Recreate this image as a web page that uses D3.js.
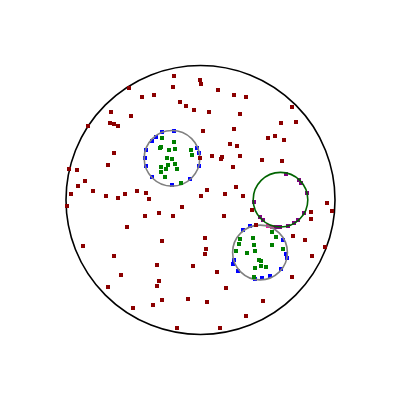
<!DOCTYPE html>
<html><head><meta charset="utf-8">
<script src="https://cdn.jsdelivr.net/npm/d3@7"></script>
<style>html,body{margin:0;padding:0;background:#fff;}svg{display:block;}</style>
</head><body>
<script>
// Outer enclosing circle and inner circles [cx, cy, r]
const outerCircle = [200.5, 200, 134.5];
const grayCircles = [[172, 158.3, 27.8], [260, 252.5, 27.4]];
const greenCircle = [280.5, 199.7, 27.3];

// Scattered dark red points
const redPoints = [
  [174,76],[199.5,80],[201,84],[173,86.7],[129,87.7],[154,94.7],[142,96.7],[180,102],[186,105.7],[194,110],
  [111,112],[131,115.7],[110,122.7],[114,123.7],[118,125.7],[88,126],[114,152.7],[108,165],[69,168.7],[77,169.7],
  [85,180.7],[78,185.7],[93,190.7],[71,193.7],[106,195.7],[118,197.7],[125,193.7],[137,190.7],[146,192.7],[149,199],
  [199.5,157.7],[202.5,130.7],
  [218,89.7],[234,94.7],[246,96.7],[292,106.7],[209,111.7],[240,113.7],[281,122.7],[296,121.7],[234,128.7],
  [268,137.7],[275,135.7],[284,139.7],[230,143.7],[237,145.7],[212,155.7],[222,156.7],[221,158.7],[240,155.7],
  [262,159.7],[282,160.7],[233,166.7],[236,186.7],[207,189.7],[225,193.7],[243,195.7],[201,196],
  [67,205.7],[182,206.7],[145,215.7],[159,212.7],[173,215.7],[127,226.7],[162,240.7],[83,245.7],[114,255.7],
  [157,264.7],[193,265.7],[121,274.7],[159,280.7],[157,285.7],[108,286.7],[162,299.7],[188,298.7],[133,307.7],
  [153,304.7],[177,327.7],
  [327,202.7],[331.7,210.7],[310.7,212],[310.7,218.7],[252,209.7],[224,215.7],[293,235.7],[305,239.7],[205,237.7],
  [206,248.7],[205,253.7],[325,246.7],[312,255.7],[217,271.7],[292,276.7],[226,287.7],[207,301.7],[263,300.7],
  [246,315.7],[220,327.7],[256,225]
];

// Green points inside the gray circles
const greenPoints = [
  [162,138],[174,142],[160,148],[161,146.7],[169,149.7],[175,148.7],[190.7,149.7],[192,154.7],[167,157.7],[172,159],
  [175,163.7],[167.7,164.7],[161,166.7],[176.7,168.7],[166,168.7],[161,171.7],[165,176.7],[181,182.7],
  [272,232],[253,238],[276,237],[240,239],[239,244],[254,245],[272,245],[283,249],[236,251],[247,253],
  [255,251],[259,260],[261,261],[261,266],[255,268],[266,266.5],[254,277]
];

// Blue boundary points of the gray circles
const bluePoints = [
  [162,132],[174,131],[156,136.5],[151.5,141],[146,150],[145,158],[146,166],[152,177],[172,185],[190,178.5],
  [199,166],[199,153],[197,148],
  [243,230],[250,226],[283,240.5],[286,254],[286.5,257.5],[281,269],[270,276],[262,278],[255,278.5],[238,271],
  [233.5,260],[233,264]
];

// Purple boundary points of the green circle
const purplePoints = [
  [286,173.5],[299,179.5],[301,182.5],[307,192.5],[254,201.5],[260,217],[263,220],[303.5,213.5],[298,220],
  [293.5,222.5],[288,225.5],[280,227],[276,226.5]
];

// Magenta points at the circles' contact
const magentaPoints = [[268,225.5],[272,227]];

const W = 400, H = 400, S = 4;
const x = d3.scaleLinear().domain([0, 400]).range([0, W]);
const y = d3.scaleLinear().domain([0, 400]).range([0, H]);

const svg = d3.select("body").append("svg").attr("width", W).attr("height", H);

svg.append("circle")
  .attr("cx", x(outerCircle[0])).attr("cy", y(outerCircle[1])).attr("r", x(outerCircle[2]))
  .attr("fill", "none").attr("stroke", "#000").attr("stroke-width", 1.6);

function squares(data, color) {
  svg.append("g").attr("shape-rendering", "crispEdges")
    .selectAll("rect").data(data).join("rect")
    .attr("x", d => Math.round(x(d[0]) - S / 2)).attr("y", d => Math.round(y(d[1]) - S / 2))
    .attr("width", S).attr("height", S).attr("fill", color);
}

squares(bluePoints, "#0000ff");
squares(purplePoints, "#800080");
squares(magentaPoints, "#ff00aa");

svg.append("g").selectAll("circle").data(grayCircles).join("circle")
  .attr("cx", d => x(d[0])).attr("cy", d => y(d[1])).attr("r", d => x(d[2]))
  .attr("fill", "none").attr("stroke", "#808080").attr("stroke-width", 1.6);

svg.append("circle")
  .attr("cx", x(greenCircle[0])).attr("cy", y(greenCircle[1])).attr("r", x(greenCircle[2]))
  .attr("fill", "none").attr("stroke", "#006400").attr("stroke-width", 1.6);

squares(redPoints, "#8b0000");
squares(greenPoints, "#008000");
</script>
</body></html>
